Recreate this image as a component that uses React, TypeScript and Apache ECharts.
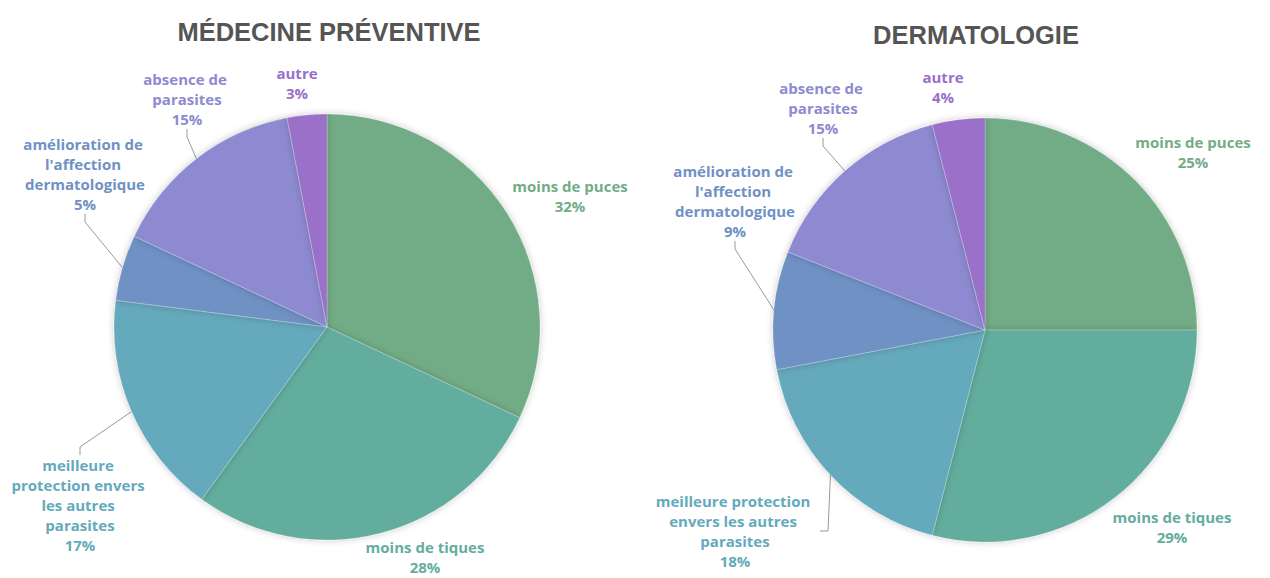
import React, { useEffect, useRef } from "react";
import * as echarts from "echarts";

const categories = [
  "moins de puces",
  "moins de tiques",
  "meilleure protection envers les autres parasites",
  "amélioration de l'affection dermatologique",
  "absence de parasites",
  "autre",
];
const preventiveValues = [32, 28, 17, 5, 15, 3];
const dermatoValues = [25, 29, 18, 9, 15, 4];
const titles = ["MÉDECINE PRÉVENTIVE", "DERMATOLOGIE"];

const colors = ["#72AC86", "#63AD9E", "#65A9BC", "#6F91C4", "#8D8AD1", "#9A6FC9"];

// label placement (center of text block) per chart
const leftLabelPos = [
  [570, 196], [425, 557], [80, 505], [85, 174], [187, 99], [297, 83],
];
const rightLabelPos = [
  [1193, 152], [1172, 527], [735, 531], [735, 201], [823, 108], [943, 87],
];
const leftWidths = [200, 200, 145, 135, 110, 100];
const rightWidths = [200, 200, 170, 135, 110, 100];
const withLine = [false, false, true, true, true, false];

function makeSeries(values: number[], center: [number, number], radius: number, pos: number[][], widths: number[]) {
  return {
    type: "pie",
    center,
    radius,
    startAngle: 90,
    clockwise: true,
    avoidLabelOverlap: false,
    data: values.map((v, i) => ({
      name: categories[i],
      value: v,
      itemStyle: { color: colors[i] },
      label: { color: colors[i], width: widths[i] },
      labelLine: { show: withLine[i] },
    })),
    itemStyle: {
      borderColor: "rgba(255,255,255,0.35)",
      borderWidth: 0.6,
      shadowBlur: 7,
      shadowColor: "rgba(0,0,0,0.22)",
    },
    label: {
      show: true,
      position: "outside",
      formatter: "{b}\n{c}%",
      fontFamily: "Open Sans",
      fontWeight: "bold",
      fontSize: 15,
      lineHeight: 20,
      align: "center",
      overflow: "break",
    },
    labelLine: {
      lineStyle: { color: "#9a9a9a", width: 1 },
      length: 10,
      length2: 8,
    },
    labelLayout: (p: any) => {
      const [x, y] = pos[p.dataIndex];
      return { x, y, align: "center", verticalAlign: "middle" };
    },
  };
}

export default function App() {
  const ref = useRef<HTMLDivElement>(null);
  useEffect(() => {
    document.body.style.margin = "0";
    const chart = echarts.init(ref.current!, undefined, { renderer: "svg" });
    const titleStyle = { fontFamily: "Liberation Sans", fontWeight: "bold", fontSize: 25.5, color: "#555555" };
    chart.setOption({
      animation: false,
      backgroundColor: "#ffffff",
      title: [
        { text: titles[0], left: 324, top: 14, textAlign: "center", textStyle: titleStyle },
        { text: titles[1], left: 971, top: 17, textAlign: "center", textStyle: titleStyle },
      ],
      series: [
        makeSeries(preventiveValues, [327, 327], 213, leftLabelPos, leftWidths),
        makeSeries(dermatoValues, [985, 330], 212, rightLabelPos, rightWidths),
      ],
    });
    return () => chart.dispose();
  }, []);
  return <div ref={ref} style={{ width: 1270, height: 578 }} />;
}
